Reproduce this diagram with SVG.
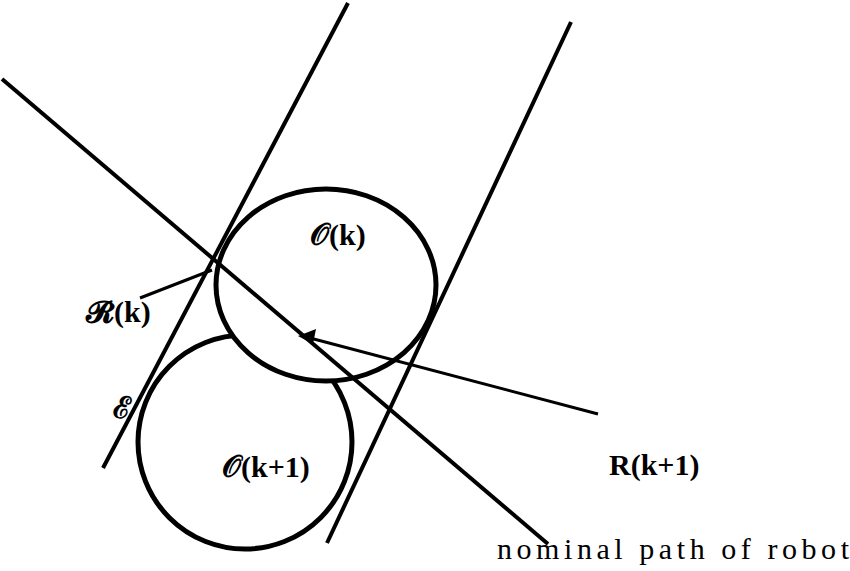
<svg xmlns="http://www.w3.org/2000/svg" width="850" height="571" viewBox="0 0 850 571">
<style>
.c{fill:#fff;stroke:#000;stroke-width:5}
.l{stroke:#000;stroke-width:4;fill:none}
.t{font-family:"Liberation Serif","DejaVu Serif",serif;font-weight:bold;font-size:30px;fill:#000}
.n{font-family:"Liberation Serif",serif;font-size:30px;fill:#000}
</style>
<rect width="850" height="571" fill="#fff"/>
<g id="circle-k1"><ellipse class="c" cx="245" cy="442" rx="107" ry="107"/></g>
<g id="circle-k"><ellipse class="c" cx="326" cy="285" rx="110" ry="96"/></g>
<g id="connectors">
<line class="l" x1="348" y1="3" x2="103" y2="468"/>
<line class="l" x1="571" y1="22" x2="327" y2="543"/>
<line class="l" x1="2" y1="79" x2="548" y2="544"/>
<line class="l" x1="598" y1="414" x2="310" y2="338" style="stroke-width:3"/>
<polygon points="298,336 316,329 313,344" fill="#000"/>
<line class="l" x1="140" y1="298" x2="212" y2="270" style="stroke-width:3"/>
</g>
<g id="labels">
<text class="t" x="310" y="245">𝒪(k)</text>
<text class="t" x="86" y="322">𝓡(k)</text>
<text class="t" x="113" y="418">ℰ</text>
<text class="t" x="222" y="477">𝒪(k+1)</text>
<text class="t" x="609" y="475">R(k+1)</text>
<text class="n" x="497" y="559" textLength="352" lengthAdjust="spacing">nominal  path  of  robot</text>
</g>
</svg>
